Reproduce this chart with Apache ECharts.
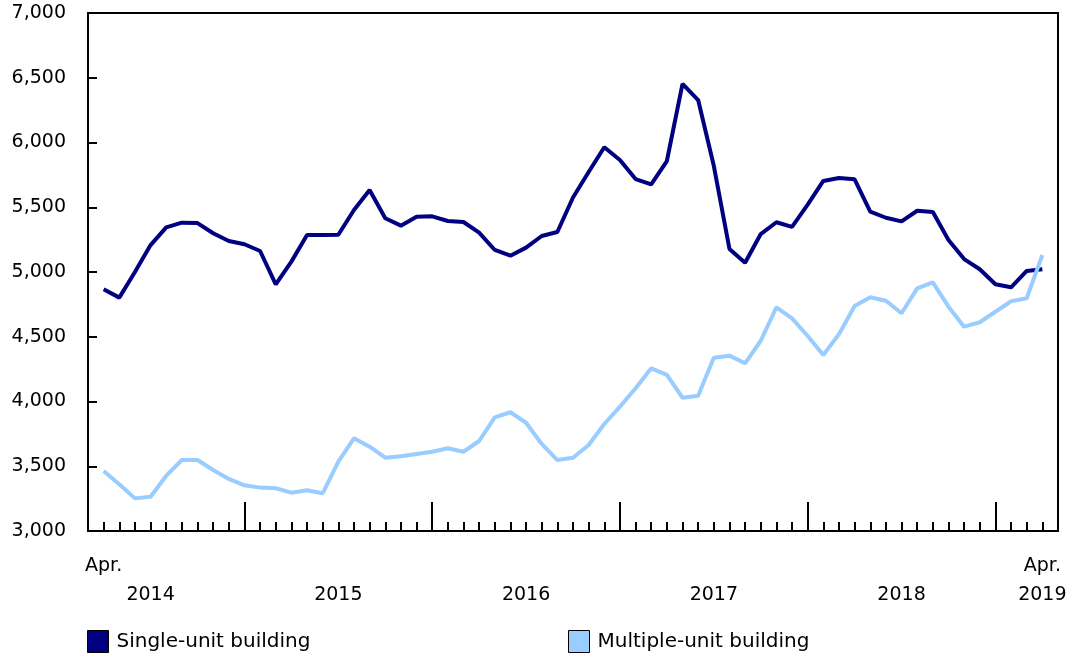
<!DOCTYPE html>
<html>
<head>
<meta charset="utf-8">
<script src="https://cdn.jsdelivr.net/npm/echarts@6/dist/echarts.min.js"></script>
<style>
  html, body { margin: 0; padding: 0; background: #fff; }
  #chart { width: 1072px; height: 659px; }
</style>
</head>
<body>
<div id="chart"></div>
<script>
// monthly values, Apr. 2014 .. Apr. 2019 (61 months)
const singleUnit = [
  4866, 4802, 5000, 5208, 5345, 5381, 5378, 5299, 5239,
  5214, 5162, 4905, 5080, 5285, 5285, 5288, 5479, 5633, 5415, 5358, 5427, 5430,
  5394, 5386, 5304, 5170, 5126, 5188, 5278, 5309, 5575, 5772, 5963, 5865,
  5718, 5677, 5857, 6452, 6328, 5820, 5178, 5072, 5293, 5384, 5348, 5520,
  5703, 5726, 5716, 5466, 5419, 5391, 5473, 5463, 5247, 5100, 5021, 4905,
  4882, 5008, 5021
];
const multiUnit = [
  3463, 3361, 3252, 3265, 3427, 3548, 3548, 3471, 3402,
  3353, 3335, 3330, 3296, 3314, 3291, 3535, 3716, 3651, 3566, 3577, 3595, 3612,
  3639, 3612, 3695, 3878, 3917, 3836, 3672, 3548, 3566, 3664, 3826, 3960,
  4102, 4256, 4205, 4029, 4045, 4338, 4354, 4295, 4469, 4727, 4642, 4506,
  4359, 4520, 4737, 4805, 4778, 4681, 4874, 4920, 4732, 4578, 4612, 4693,
  4774, 4797, 5131
];
const seriesNames = ['Single-unit building', 'Multiple-unit building'];
const yearLabels = ['2014', '2015', '2016', '2017', '2018', '2019'];
const yearLabelAt = [3, 15, 27, 39, 51, 60];
const januaryAt = [9, 21, 33, 45, 57];
const aprilAt = [0, 60];

const minorTicks = [];
for (let i = 0; i < singleUnit.length; i++) {
  if (januaryAt.indexOf(i) < 0) minorTicks.push(i);
}

const font = 'DejaVu Sans';
const fontSize = 19;

const chart = echarts.init(document.getElementById('chart'));

function legendFor(name, left) {
  return {
    data: [name], left: left, top: 630, padding: 0,
    icon: 'rect', itemWidth: 21, itemHeight: 22,
    itemStyle: { borderColor: '#000', borderWidth: 1 },
    textStyle: { fontSize: 20, color: '#000', fontFamily: font, padding: [0, 0, 0, 3] }
  };
}

chart.setOption({
  animation: false,
  textStyle: { fontFamily: font },
  grid: {
    left: 88, right: 14, top: 13, bottom: 128,
    show: true, borderColor: '#000', borderWidth: 2
  },
  legend: [legendFor(seriesNames[0], 87), legendFor(seriesNames[1], 568)],
  xAxis: [
    {
      type: 'value', min: -1, max: 61, position: 'bottom',
      axisLine: { show: true, onZero: false, lineStyle: { color: '#000', width: 2 } },
      axisTick: { show: true, inside: true, length: 9, customValues: minorTicks, lineStyle: { color: '#000', width: 2 } },
      axisLabel: {
        customValues: aprilAt, formatter: () => 'Apr.',
        margin: 26, fontSize: fontSize, color: '#000', fontFamily: font
      },
      splitLine: { show: false }
    },
    {
      type: 'value', min: -1, max: 61, position: 'bottom',
      axisLine: { show: false, onZero: false },
      axisTick: { show: true, inside: true, length: 29, customValues: januaryAt, lineStyle: { color: '#000', width: 2 } },
      axisLabel: {
        customValues: yearLabelAt,
        formatter: v => yearLabels[yearLabelAt.indexOf(v)],
        margin: 55, fontSize: fontSize, color: '#000', fontFamily: font
      },
      splitLine: { show: false }
    }
  ],
  yAxis: {
    type: 'value', min: 3000, max: 7000, interval: 500,
    axisLine: { show: true, onZero: false, lineStyle: { color: '#000', width: 2 } },
    axisTick: { show: true, inside: true, length: 9, lineStyle: { color: '#000', width: 2 } },
    axisLabel: {
      margin: 22, fontSize: fontSize, color: '#000', fontFamily: font,
      formatter: v => v.toLocaleString('en-US')
    },
    splitLine: { show: false }
  },
  series: [
    {
      name: seriesNames[0], type: 'line', showSymbol: false,
      data: singleUnit.map((v, i) => [i, v]),
      lineStyle: { color: '#000080', width: 4 },
      itemStyle: { color: '#000080' }
    },
    {
      name: seriesNames[1], type: 'line', showSymbol: false,
      data: multiUnit.map((v, i) => [i, v]),
      lineStyle: { color: '#99ccff', width: 4 },
      itemStyle: { color: '#99ccff' }
    }
  ]
});
</script>
</body>
</html>
